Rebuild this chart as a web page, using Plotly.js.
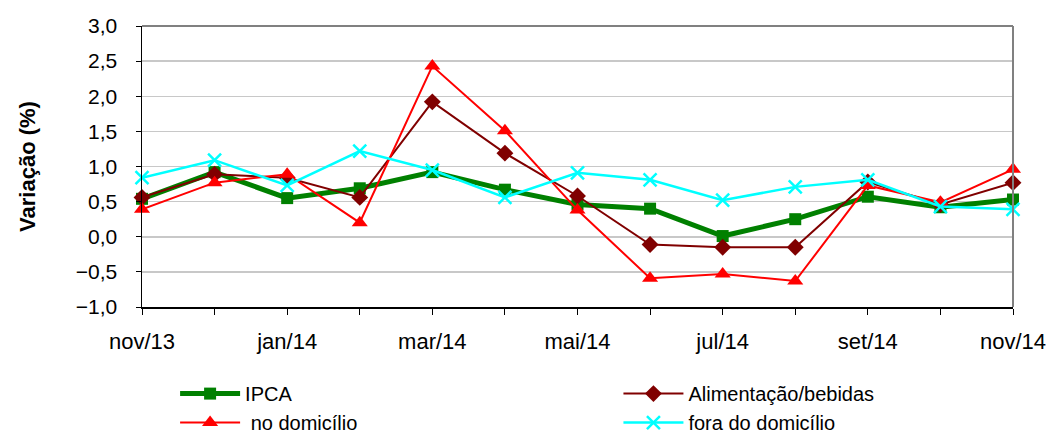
<!DOCTYPE html>
<html>
<head>
<meta charset="utf-8">
<script src="https://cdn.plot.ly/plotly-3.0.1.min.js"></script>
<style>html,body{margin:0;padding:0;background:#fff}#chart{width:1053px;height:435px}</style>
</head>
<body>
<div id="chart"></div>
<script>
const months = ["nov/13","dez/13","jan/14","fev/14","mar/14","abr/14","mai/14","jun/14","jul/14","ago/14","set/14","out/14","nov/14"];
const tickLabels = ["nov/13","","jan/14","","mar/14","","mai/14","","jul/14","","set/14","","nov/14"];
const ipca = [0.54, 0.92, 0.55, 0.69, 0.92, 0.67, 0.46, 0.40, 0.01, 0.25, 0.57, 0.42, 0.53];
const alimentacao = [0.56, 0.89, 0.84, 0.56, 1.92, 1.19, 0.58, -0.11, -0.15, -0.15, 0.78, 0.46, 0.77];
const noDomicilio = [0.39, 0.77, 0.89, 0.20, 2.43, 1.51, 0.38, -0.59, -0.53, -0.63, 0.73, 0.49, 0.96];
const foraDomicilio = [0.84, 1.09, 0.73, 1.22, 0.95, 0.56, 0.91, 0.81, 0.52, 0.71, 0.81, 0.43, 0.39];

const font = "Liberation Sans, Arial, sans-serif";
const traces = [
  {x: months, y: ipca, name: "IPCA", type: "scatter", mode: "lines+markers", cliponaxis: false, legend: "legend",
   line: {color: "#008000", width: 5}, marker: {symbol: "square", size: 12, color: "#008000"}},
  {x: months, y: alimentacao, name: "Alimentação/bebidas", type: "scatter", mode: "lines+markers", cliponaxis: false, legend: "legend2",
   line: {color: "#800000", width: 2}, marker: {symbol: "diamond", size: 13, color: "#800000"}},
  {x: months, y: noDomicilio, name: " no domicílio", type: "scatter", mode: "lines+markers", cliponaxis: false, legend: "legend",
   line: {color: "#FF0000", width: 2}, marker: {symbol: "triangle-up", size: 14, color: "#FF0000"}},
  {x: months, y: foraDomicilio, name: "fora do domicílio", type: "scatter", mode: "lines+markers", cliponaxis: false, legend: "legend2",
   line: {color: "#00FFFF", width: 2.5}, marker: {symbol: "x-thin", size: 13, color: "#00FFFF", line: {color: "#00FFFF", width: 2.5}}}
];

const legendCommon = {orientation: "v", yref: "container", y: 0.14, yanchor: "top", xanchor: "left",
  font: {family: font, size: 20, color: "#000"}, tracegroupgap: 0, itemwidth: 60, bgcolor: "rgba(0,0,0,0)"};

const layout = {
  width: 1053, height: 435,
  margin: {l: 142, r: 40, t: 26, b: 128},
  paper_bgcolor: "#fff", plot_bgcolor: "#fff",
  separators: ",.",
  font: {family: font, size: 20, color: "#000"},
  showlegend: true,
  legend: Object.assign({}, legendCommon, {x: 0.038}),
  legend2: Object.assign({}, legendCommon, {x: 0.547}),
  xaxis: {type: "category", range: [0, 12], tickmode: "array", tickvals: months, ticktext: tickLabels,
          ticks: "outside", ticklen: 6, tickcolor: "#000", showline: true, linecolor: "#000", linewidth: 1.5,
          mirror: false, showgrid: false, zeroline: false, ticklabelstandoff: 8,
          tickfont: {family: font, size: 22}},
  yaxis: {range: [-1, 3], dtick: 0.5, tick0: 0, tickformat: ".1f", ticks: "outside", ticklen: 5, tickcolor: "#000",
          showline: true, linecolor: "#000", linewidth: 1.5, showgrid: true, gridcolor: "#c8c8c8", gridwidth: 1.5,
          zeroline: false, ticklabelstandoff: 14, tickfont: {family: font, size: 21},
          title: {text: "<b>Variação (%)</b>", font: {family: font, size: 22}, standoff: 34}},
  shapes: [
    {type: "line", xref: "paper", yref: "paper", x0: 0, x1: 1, y0: 1, y1: 1, line: {color: "#808080", width: 2}},
    {type: "line", xref: "paper", yref: "paper", x0: 1, x1: 1, y0: 0, y1: 1, line: {color: "#808080", width: 2}}
  ]
};
Plotly.newPlot("chart", traces, layout, {displayModeBar: false, staticPlot: true});
</script>
</body>
</html>
